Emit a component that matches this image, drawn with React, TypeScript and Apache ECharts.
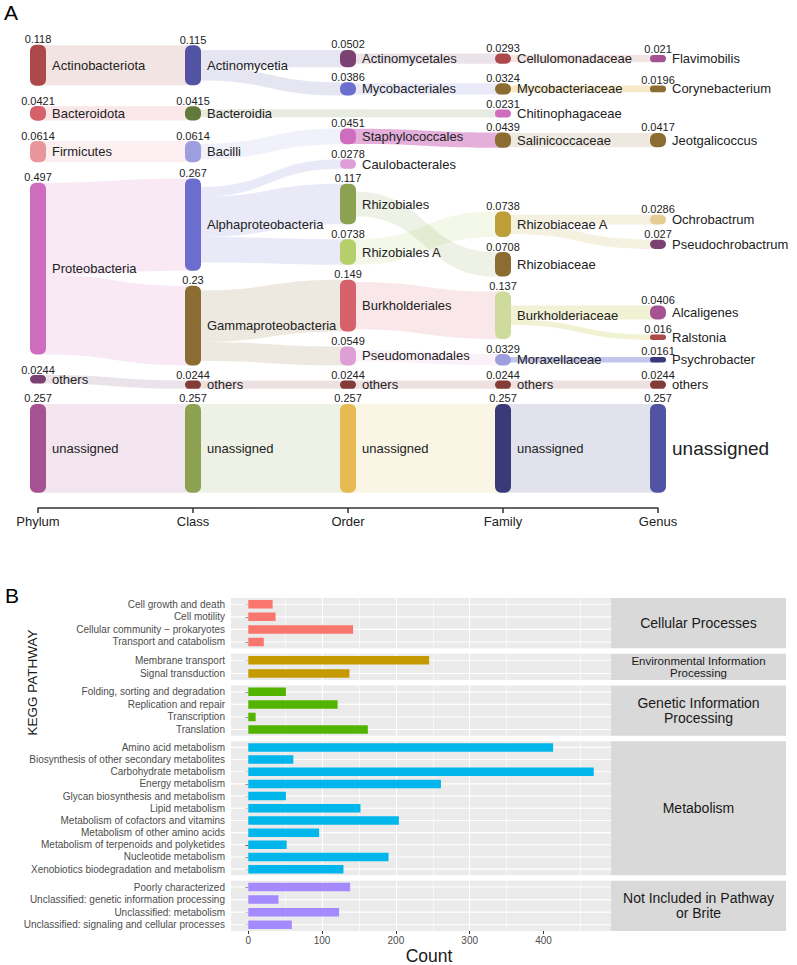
import React, { useEffect, useRef } from 'react';
import * as echarts from 'echarts';

const FONT = '"Liberation Sans", Arial, Helvetica, sans-serif';

/* ---------------- Panel A : taxonomic sankey ---------------- */
const LEVELS = ['Phylum', 'Class', 'Order', 'Family', 'Genus'];

const PHYLUM_NAMES = ['Actinobacteriota', 'Bacteroidota', 'Firmicutes', 'Proteobacteria', 'others', 'unassigned'];
const PHYLUM_VALUES = [0.118, 0.0421, 0.0614, 0.497, 0.0244, 0.257];

const CLASS_NAMES = ['Actinomycetia', 'Bacteroidia', 'Bacilli', 'Alphaproteobacteria', 'Gammaproteobacteria', 'others', 'unassigned'];
const CLASS_VALUES = [0.115, 0.0415, 0.0614, 0.267, 0.23, 0.0244, 0.257];

const ORDER_NAMES = ['Actinomycetales', 'Mycobacteriales', 'Staphylococcales', 'Caulobacterales', 'Rhizobiales', 'Rhizobiales A', 'Burkholderiales', 'Pseudomonadales', 'others', 'unassigned'];
const ORDER_VALUES = [0.0502, 0.0386, 0.0451, 0.0278, 0.117, 0.0738, 0.149, 0.0549, 0.0244, 0.257];

const FAMILY_NAMES = ['Cellulomonadaceae', 'Mycobacteriaceae', 'Chitinophagaceae', 'Salinicoccaceae', 'Rhizobiaceae A', 'Rhizobiaceae', 'Burkholderiaceae', 'Moraxellaceae', 'others', 'unassigned'];
const FAMILY_VALUES = [0.0293, 0.0324, 0.0231, 0.0439, 0.0738, 0.0708, 0.137, 0.0329, 0.0244, 0.257];

const GENUS_NAMES = ['Flavimobilis', 'Corynebacterium', 'Jeotgalicoccus', 'Ochrobactrum', 'Pseudochrobactrum', 'Alcaligenes', 'Ralstonia', 'Psychrobacter', 'others', 'unassigned'];
const GENUS_VALUES = [0.021, 0.0196, 0.0417, 0.0286, 0.027, 0.0406, 0.016, 0.0161, 0.0244, 0.257];

const PHYLUM_CLASS_LINKS: [string, string, number][] = [
  ['Actinobacteriota', 'Actinomycetia', 0.115],
  ['Bacteroidota', 'Bacteroidia', 0.0415],
  ['Firmicutes', 'Bacilli', 0.0614],
  ['Proteobacteria', 'Alphaproteobacteria', 0.267],
  ['Proteobacteria', 'Gammaproteobacteria', 0.23],
  ['others', 'others', 0.0244],
  ['unassigned', 'unassigned', 0.257],
];
const CLASS_ORDER_LINKS: [string, string, number][] = [
  ['Actinomycetia', 'Actinomycetales', 0.0502],
  ['Actinomycetia', 'Mycobacteriales', 0.0386],
  ['Bacilli', 'Staphylococcales', 0.0451],
  ['Alphaproteobacteria', 'Caulobacterales', 0.0278],
  ['Alphaproteobacteria', 'Rhizobiales', 0.117],
  ['Alphaproteobacteria', 'Rhizobiales A', 0.0738],
  ['Gammaproteobacteria', 'Burkholderiales', 0.149],
  ['Gammaproteobacteria', 'Pseudomonadales', 0.0549],
  ['others', 'others', 0.0244],
  ['unassigned', 'unassigned', 0.257],
];
const CLASS_FAMILY_LINKS: [string, string, number][] = [
  ['Bacteroidia', 'Chitinophagaceae', 0.0231],
];
const ORDER_FAMILY_LINKS: [string, string, number][] = [
  ['Actinomycetales', 'Cellulomonadaceae', 0.0293],
  ['Mycobacteriales', 'Mycobacteriaceae', 0.0324],
  ['Staphylococcales', 'Salinicoccaceae', 0.0439],
  ['Rhizobiales A', 'Rhizobiaceae A', 0.0738],
  ['Rhizobiales', 'Rhizobiaceae', 0.0708],
  ['Burkholderiales', 'Burkholderiaceae', 0.137],
  ['Pseudomonadales', 'Moraxellaceae', 0.0329],
  ['others', 'others', 0.0244],
  ['unassigned', 'unassigned', 0.257],
];
const FAMILY_GENUS_LINKS: [string, string, number][] = [
  ['Cellulomonadaceae', 'Flavimobilis', 0.021],
  ['Mycobacteriaceae', 'Corynebacterium', 0.0196],
  ['Salinicoccaceae', 'Jeotgalicoccus', 0.0417],
  ['Rhizobiaceae A', 'Ochrobactrum', 0.0286],
  ['Rhizobiaceae A', 'Pseudochrobactrum', 0.027],
  ['Burkholderiaceae', 'Alcaligenes', 0.0406],
  ['Burkholderiaceae', 'Ralstonia', 0.016],
  ['Moraxellaceae', 'Psychrobacter', 0.0161],
  ['others', 'others', 0.0244],
  ['unassigned', 'unassigned', 0.257],
];

/* ---------------- Panel B : KEGG pathway counts ---------------- */
const CELLULAR_PATHWAYS = ['Cell growth and death', 'Cell motility', 'Cellular community \u2212 prokaryotes', 'Transport and catabolism'];
const CELLULAR_COUNTS = [33, 37, 142, 21];
const ENVIRONMENTAL_PATHWAYS = ['Membrane transport', 'Signal transduction'];
const ENVIRONMENTAL_COUNTS = [245, 137];
const GENETIC_PATHWAYS = ['Folding, sorting and degradation', 'Replication and repair', 'Transcription', 'Translation'];
const GENETIC_COUNTS = [51, 121, 10, 162];
const METABOLISM_PATHWAYS = [
  'Amino acid metabolism', 'Biosynthesis of other secondary metabolites', 'Carbohydrate metabolism',
  'Energy metabolism', 'Glycan biosynthesis and metabolism', 'Lipid metabolism',
  'Metabolism of cofactors and vitamins', 'Metabolism of other amino acids',
  'Metabolism of terpenoids and polyketides', 'Nucleotide metabolism', 'Xenobiotics biodegradation and metabolism',
];
const METABOLISM_COUNTS = [413, 61, 468, 261, 51, 152, 204, 96, 52, 190, 129];
const UNCLASSIFIED_PATHWAYS = ['Poorly characterized', 'Unclassified: genetic information processing', 'Unclassified: metabolism', 'Unclassified: signaling and cellular processes'];
const UNCLASSIFIED_COUNTS = [138, 41, 123, 59];
const FACET_NAMES = ['Cellular Processes', 'Environmental Information\nProcessing', 'Genetic Information\nProcessing', 'Metabolism', 'Not Included in Pathway\nor Brite'];
const COUNT_TICKS = [0, 100, 200, 300, 400];

/* ---------------- styles ---------------- */
const NODE_COLORS = [
  ['#ad494a', '#d6616b', '#e7969c', '#ce6dbd', '#7b4173', '#a55194'],
  ['#5254a3', '#637939', '#9c9ede', '#6b6ecf', '#8c6d31', '#843c39', '#8ca252'],
  ['#7b4173', '#6b6ecf', '#ce6dbd', '#de9ed6', '#8ca252', '#b5cf6b', '#d6616b', '#de9ed6', '#843c39', '#e7ba52'],
  ['#ad494a', '#8c6d31', '#ce6dbd', '#8c6d31', '#bd9e39', '#8c6d31', '#cedb9c', '#9c9ede', '#843c39', '#393b79'],
  ['#a55194', '#8c6d31', '#8c6d31', '#e7cb94', '#7b4173', '#a55194', '#ad494a', '#393b79', '#843c39', '#5254a3'],
];
const LINK_ALPHA = 0.15;
const LINK_STYLE_OVERRIDE: Record<string, [string | null, number]> = {
  'Staphylococcales>Salinicoccaceae': [null, 0.55],
  'Moraxellaceae>Psychrobacter': [null, 0.6],
  'Mycobacteriaceae>Corynebacterium': ['#e7ba52', 0.32],
  'Burkholderiaceae>Alcaligenes': ['#dbdb8d', 0.38],
  'Burkholderiaceae>Ralstonia': ['#dbdb8d', 0.38],
};
const LABEL_SIZE_OVERRIDE: Record<string, number> = { 'Genus:unassigned': 19 };
const FACET_COLORS = ['#F8766D', '#C49A00', '#53B400', '#00B6EB', '#A58AFF'];
const FACET_FONT = [14, 11.5, 14, 14, 14];
const FACET_LINE = [16, 12, 15.5, 16, 15];

const NODE_W = 16;
const GAP = 0.0434; // min gap between stacked nodes (abundance units)
const GAP0 = 0.059; // gap used in first column
const LAYOUT_H = 1.332;
const AXIS_MAX = 1.376;

const LEVEL_NAMES = [PHYLUM_NAMES, CLASS_NAMES, ORDER_NAMES, FAMILY_NAMES, GENUS_NAMES];
const LEVEL_VALUES = [PHYLUM_VALUES, CLASS_VALUES, ORDER_VALUES, FAMILY_VALUES, GENUS_VALUES];
const LINK_GROUPS: [number, number, [string, string, number][]][] = [
  [0, 1, PHYLUM_CLASS_LINKS],
  [1, 2, CLASS_ORDER_LINKS],
  [1, 3, CLASS_FAMILY_LINKS],
  [2, 3, ORDER_FAMILY_LINKS],
  [3, 4, FAMILY_GENUS_LINKS],
];

function hexToRgba(hex: string, a: number) {
  const h = hex.replace('#', '');
  const r = parseInt(h.slice(0, 2), 16);
  const g = parseInt(h.slice(2, 4), 16);
  const b = parseInt(h.slice(4, 6), 16);
  return `rgba(${r},${g},${b},${a})`;
}

function fmt(v: number) {
  return String(parseFloat(v.toPrecision(3)));
}

// sankey-style collision resolution: push overlapping nodes down, then back up from the bottom
function resolveColumn(desired: number[], heights: number[], gap: number, minY: number, maxY: number) {
  const tops = desired.slice();
  let y0 = minY;
  for (let i = 0; i < tops.length; i++) {
    if (tops[i] < y0) tops[i] = y0;
    y0 = tops[i] + heights[i] + gap;
  }
  const over = y0 - gap - maxY;
  if (over > 0) {
    const last = tops.length - 1;
    tops[last] -= over;
    y0 = tops[last];
    for (let i = last - 1; i >= 0; i--) {
      const bottom = tops[i] + heights[i] + gap;
      if (bottom > y0) tops[i] -= bottom - y0;
      y0 = tops[i];
    }
  }
  return tops;
}

function buildSankey() {
  const columns: any[][] = LEVEL_NAMES.map((names, li) =>
    names.map((name, i) => ({
      id: LEVELS[li] + ':' + name, level: li, index: i, name,
      value: LEVEL_VALUES[li][i], color: NODE_COLORS[li][i], top: 0, ins: [] as any[], outs: [] as any[],
    })),
  );
  const links: any[] = [];
  LINK_GROUPS.forEach(([sl, tl, list]) => {
    list.forEach(([sn, tn, v]) => {
      const s = columns[sl].find((n) => n.name === sn);
      const t = columns[tl].find((n) => n.name === tn);
      const l = { s, t, value: v, sy: 0, ty: 0 };
      s.outs.push(l);
      t.ins.push(l);
      links.push(l);
    });
  });
  // first column: stacked, bottom aligned
  const c0 = columns[0];
  const total0 = c0.reduce((a, n) => a + n.value, 0) + GAP0 * (c0.length - 1);
  let y = LAYOUT_H - total0;
  c0.forEach((n) => { n.top = y; y += n.value + GAP0; });

  const slotCenter = (l: any) => {
    const s = l.s;
    const outs = s.outs.slice().sort((a: any, b: any) => a.t.level - b.t.level || a.t.index - b.t.index);
    const sum = outs.reduce((a: number, o: any) => a + o.value, 0);
    let y0 = s.top + (s.value - sum) / 2;
    for (const o of outs) {
      if (o === l) return y0 + o.value / 2;
      y0 += o.value;
    }
    return y0;
  };

  for (let li = 1; li < columns.length; li++) {
    const col = columns[li];
    const desired = col.map((n) => {
      const w = n.ins.reduce((a: number, l: any) => a + l.value, 0);
      const c = n.ins.reduce((a: number, l: any) => a + slotCenter(l) * l.value, 0) / w;
      return c - n.value / 2;
    });
    const tops = resolveColumn(desired, col.map((n) => n.value), GAP, 0, LAYOUT_H);
    col.forEach((n, i) => { n.top = tops[i]; });
  }

  const nodes = columns.flat();
  nodes.forEach((n) => {
    const outs = n.outs.slice().sort((a: any, b: any) => a.t.top - b.t.top);
    let sum = outs.reduce((a: number, o: any) => a + o.value, 0);
    let y0 = n.top + (n.value - sum) / 2;
    outs.forEach((o: any) => { o.sy = y0; y0 += o.value; });
    const ins = n.ins.slice().sort((a: any, b: any) => a.s.top - b.s.top);
    sum = ins.reduce((a: number, o: any) => a + o.value, 0);
    y0 = n.top + (n.value - sum) / 2;
    ins.forEach((o: any) => { o.ty = y0; y0 += o.value; });
  });
  return { nodes, links };
}

const SANKEY = buildSankey();

/* ---------------- Panel B layout ---------------- */
const FACET_PATHWAYS = [CELLULAR_PATHWAYS, ENVIRONMENTAL_PATHWAYS, GENETIC_PATHWAYS, METABOLISM_PATHWAYS, UNCLASSIFIED_PATHWAYS];
const FACET_COUNTS = [CELLULAR_COUNTS, ENVIRONMENTAL_COUNTS, GENETIC_COUNTS, METABOLISM_COUNTS, UNCLASSIFIED_COUNTS];
const B_TOP = 598;
const B_BOTTOM = 931;
const B_LEFT = 231;
const B_WIDTH = 380;
const FACET_GAP = 5.5;
const STRIP_W = 175;
const UNIT = (B_BOTTOM - B_TOP - FACET_GAP * (FACET_PATHWAYS.length - 1)) /
  FACET_PATHWAYS.reduce((a, c) => a + c.length + 0.2, 0);
const FACET_HEIGHTS = FACET_PATHWAYS.map((c) => (c.length + 0.2) * UNIT);
const FACET_TOPS = FACET_HEIGHTS.map((_, i) => B_TOP + FACET_HEIGHTS.slice(0, i).reduce((a, h) => a + h + FACET_GAP, 0));
const MAX_COUNT = Math.max(...FACET_COUNTS.flat());
const X_MIN = -0.05 * MAX_COUNT;
const X_MAX = 1.05 * MAX_COUNT;

function buildOption() {
  const grids: any[] = [
    { left: 38, right: 139, top: 32, height: 476, outerBoundsMode: 'none' },
  ];
  const xAxes: any[] = [
    {
      type: 'category', gridIndex: 0, data: LEVELS, boundaryGap: false, position: 'bottom',
      axisLine: { show: true, onZero: false, lineStyle: { color: '#333', width: 1.5 } },
      axisTick: { show: true, length: 5, lineStyle: { color: '#333', width: 1.5 } },
      axisLabel: { color: '#222', fontSize: 13, margin: 7, fontFamily: FONT },
      splitLine: { show: false },
    },
  ];
  const yAxes: any[] = [
    { type: 'value', gridIndex: 0, inverse: true, min: 0, max: AXIS_MAX, show: false },
  ];
  const series: any[] = [
    {
      type: 'custom', name: 'links', coordinateSystem: 'cartesian2d', xAxisIndex: 0, yAxisIndex: 0,
      silent: true, clip: false, z: 1,
      data: SANKEY.links.map((l: any) => [l.s.level, l.sy]),
      renderItem: (params: any, api: any) => {
        const l = SANKEY.links[params.dataIndex];
        const xs = api.coord([l.s.level, 0])[0];
        const xt = api.coord([l.t.level, 0])[0];
        const ys0 = api.coord([l.s.level, l.sy])[1];
        const ys1 = api.coord([l.s.level, l.sy + l.value])[1];
        const yt0 = api.coord([l.t.level, l.ty])[1];
        const yt1 = api.coord([l.t.level, l.ty + l.value])[1];
        const xa = xs + NODE_W / 2;
        const xb = xt - NODE_W / 2;
        const xm = (xa + xb) / 2;
        const d = `M${xs} ${ys0}L${xa} ${ys0}C${xm} ${ys0} ${xm} ${yt0} ${xb} ${yt0}L${xt} ${yt0}L${xt} ${yt1}L${xb} ${yt1}C${xm} ${yt1} ${xm} ${ys1} ${xa} ${ys1}L${xs} ${ys1}Z`;
        const ov = LINK_STYLE_OVERRIDE[l.s.name + '>' + l.t.name];
        const color = (ov && ov[0]) || l.s.color;
        const a = ov ? ov[1] : LINK_ALPHA;
        return { type: 'path', shape: { pathData: d }, style: { fill: hexToRgba(color, a) } };
      },
    },
    {
      type: 'custom', name: 'nodes', coordinateSystem: 'cartesian2d', xAxisIndex: 0, yAxisIndex: 0,
      silent: true, clip: false, z: 2,
      data: SANKEY.nodes.map((n: any) => [n.level, n.top]),
      renderItem: (params: any, api: any) => {
        const n = SANKEY.nodes[params.dataIndex];
        const p0 = api.coord([n.level, n.top]);
        const y1 = api.coord([n.level, n.top + n.value])[1];
        const cx = p0[0];
        const y0 = p0[1];
        const h = y1 - y0;
        const fs = LABEL_SIZE_OVERRIDE[n.id] ?? 13;
        return {
          type: 'group',
          children: [
            { type: 'rect', shape: { x: cx - NODE_W / 2, y: y0, width: NODE_W, height: h, r: Math.min(6, h / 2) }, style: { fill: n.color } },
            { type: 'text', x: cx + NODE_W / 2 + 6, y: (y0 + y1) / 2, style: { text: n.name, fill: '#222', fontSize: fs, fontFamily: FONT, align: 'left', verticalAlign: 'middle' } },
            { type: 'text', x: cx, y: y0, style: { text: fmt(n.value), fill: '#222', fontSize: 11, fontFamily: FONT, align: 'center', verticalAlign: 'bottom' } },
          ],
        };
      },
    },
  ];

  const graphics: any[] = [
    { type: 'text', x: 4, y: 12.5, style: { text: 'A', fontSize: 21, fontFamily: FONT, fill: '#000', align: 'left', verticalAlign: 'middle' } },
    { type: 'text', x: 5, y: 595.5, style: { text: 'B', fontSize: 21, fontFamily: FONT, fill: '#000', align: 'left', verticalAlign: 'middle' } },
    { type: 'text', x: 32.5, y: 682.5, rotation: Math.PI / 2, style: { text: 'KEGG PATHWAY', fontSize: 13.5, fontFamily: FONT, fill: '#1a1a1a', align: 'center', verticalAlign: 'middle' } },
    { type: 'text', x: 429, y: 956, style: { text: 'Count', fontSize: 17.5, fontFamily: FONT, fill: '#1a1a1a', align: 'center', verticalAlign: 'middle' } },
  ];

  FACET_PATHWAYS.forEach((cats, i) => {
    const gi = i + 1;
    const isLast = i === FACET_PATHWAYS.length - 1;
    grids.push({
      left: B_LEFT, width: B_WIDTH, top: FACET_TOPS[i], height: FACET_HEIGHTS[i],
      show: true, backgroundColor: '#ebebeb', borderWidth: 0, outerBoundsMode: 'none',
    });
    xAxes.push({
      type: 'value', gridIndex: gi, min: X_MIN, max: X_MAX,
      axisLine: { show: false },
      axisTick: { show: isLast, length: 3, lineStyle: { color: '#333' }, customValues: COUNT_TICKS },
      axisLabel: { show: isLast, color: '#4d4d4d', fontSize: 10, margin: 4, fontFamily: FONT, customValues: COUNT_TICKS },
      splitLine: { show: true, showMinLine: false, showMaxLine: false, lineStyle: { color: '#ffffff', width: 1.1 } },
      minorTick: { show: false, splitNumber: 2 },
      minorSplitLine: { show: true, lineStyle: { color: '#ffffff', width: 0.55 } },
    });
    yAxes.push({
      type: 'category', gridIndex: gi, data: cats, inverse: true,
      axisLine: { show: false },
      axisTick: { show: true, alignWithLabel: true, length: 3, lineStyle: { color: '#333' } },
      axisLabel: { color: '#4d4d4d', fontSize: 10, margin: 6, fontFamily: FONT, interval: 0 },
      splitLine: { show: false },
    });
    series.push({
      type: 'custom', xAxisIndex: gi, yAxisIndex: gi, silent: true, z: 1,
      data: cats.map((_, j) => [0, j]),
      renderItem: (params: any, api: any) => {
        const yy = api.coord([0, api.value(1)])[1];
        const cs = params.coordSys;
        return { type: 'line', shape: { x1: cs.x, y1: yy, x2: cs.x + cs.width, y2: yy }, style: { stroke: '#ffffff', lineWidth: 1.1 } };
      },
    });
    series.push({
      type: 'bar', xAxisIndex: gi, yAxisIndex: gi, silent: true, z: 3,
      data: FACET_COUNTS[i], barWidth: 8.5,
      itemStyle: { color: FACET_COLORS[i] },
    });
    graphics.push({
      type: 'rect', shape: { x: B_LEFT + B_WIDTH, y: FACET_TOPS[i], width: STRIP_W, height: FACET_HEIGHTS[i] },
      style: { fill: '#d9d9d9' },
    });
    graphics.push({
      type: 'text', x: B_LEFT + B_WIDTH + STRIP_W / 2, y: FACET_TOPS[i] + FACET_HEIGHTS[i] / 2,
      style: { text: FACET_NAMES[i], fontSize: FACET_FONT[i], lineHeight: FACET_LINE[i], fontFamily: FONT, fill: '#1a1a1a', align: 'center', verticalAlign: 'middle' },
    });
  });

  return {
    animation: false,
    backgroundColor: '#ffffff',
    textStyle: { fontFamily: FONT },
    grid: grids,
    xAxis: xAxes,
    yAxis: yAxes,
    series,
    graphic: graphics,
  };
}

export default function App() {
  const ref = useRef<HTMLDivElement>(null);
  useEffect(() => {
    const chart = echarts.init(ref.current as HTMLDivElement, undefined, { renderer: 'svg' });
    chart.setOption(buildOption() as any);
    return () => chart.dispose();
  }, []);
  return (
    <div
      ref={ref}
      style={{ position: 'absolute', left: 0, top: 0, width: 797, height: 965, background: '#fff' }}
    />
  );
}
